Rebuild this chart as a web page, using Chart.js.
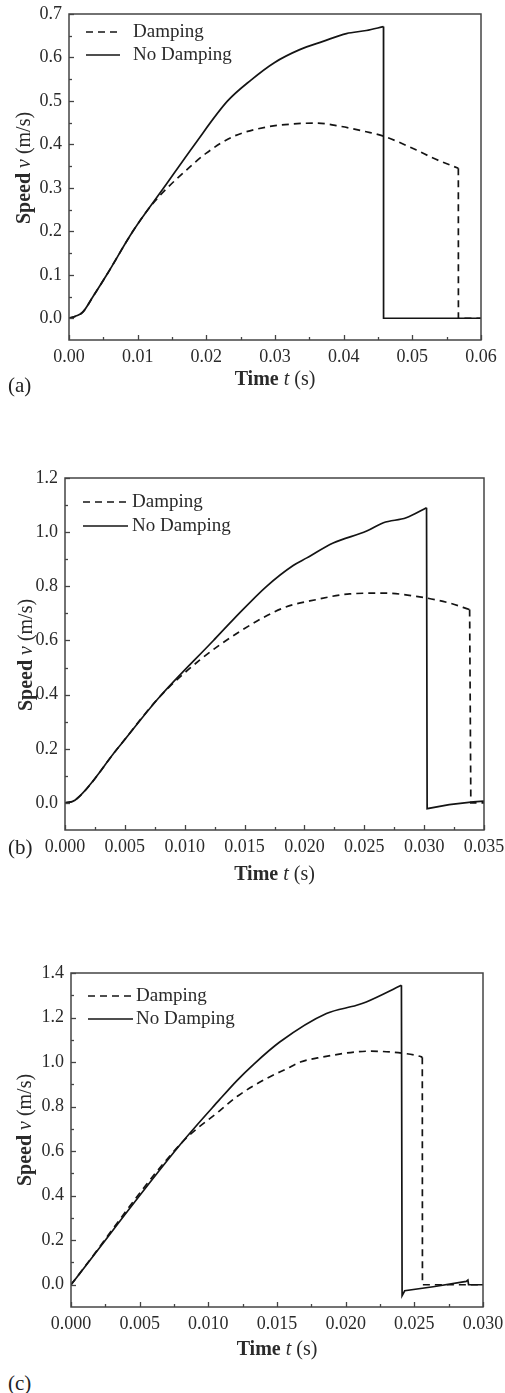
<!DOCTYPE html>
<html><head><meta charset="utf-8">
<script src="https://cdn.jsdelivr.net/npm/chart.js@4.4.1/dist/chart.umd.min.js"></script>
<style>
body{margin:0;background:#fff;width:505px;height:1393px;position:relative;overflow:hidden}
canvas{position:absolute;left:0}
.lbl{position:absolute;left:8px;font:21px "Liberation Serif","DejaVu Serif",serif;color:#222;line-height:24px}
</style></head><body>
<canvas id="ca" width="505" height="420" style="top:0px"></canvas>
<canvas id="cb" width="505" height="460" style="top:440px"></canvas>
<canvas id="cc" width="505" height="440" style="top:930px"></canvas>
<div class="lbl" style="top:373px">(a)</div>
<div class="lbl" style="top:835px">(b)</div>
<div class="lbl" style="top:1371px">(c)</div>
<script>
// ---------- DATA ----------
const seriesLabels = ['Damping', 'No Damping'];

// Panel (a) — smooth part, then the drop/tail part
const A_nd_t = [0, 0.001, 0.002, 0.0035, 0.0055, 0.0093, 0.0138, 0.0183, 0.0231, 0.0265, 0.0299, 0.0336, 0.037, 0.0404, 0.0433, 0.0458];
const A_nd_v = [0, 0.005, 0.014, 0.05, 0.1, 0.2, 0.3, 0.4, 0.5, 0.548, 0.588, 0.618, 0.637, 0.655, 0.662, 0.671];
const A_ndTail_t = [0.0458, 0.04581, 0.06];
const A_ndTail_v = [0.671, 0, 0];
const A_d_t = [0, 0.001, 0.002, 0.0035, 0.0055, 0.0093, 0.012, 0.0142, 0.0171, 0.02, 0.0239, 0.0288, 0.0326, 0.036, 0.0394, 0.0433, 0.0458, 0.0506, 0.0531, 0.0567];
const A_d_v = [0, 0.005, 0.014, 0.05, 0.1, 0.2, 0.26, 0.298, 0.341, 0.38, 0.418, 0.44, 0.447, 0.449, 0.442, 0.429, 0.419, 0.387, 0.368, 0.345];
const A_dTail_t = [0.0567, 0.05671, 0.06];
const A_dTail_v = [0.345, 0, 0];
const A_xTicks = [0, 0.01, 0.02, 0.03, 0.04, 0.05, 0.06];
const A_xMinor = [0.005, 0.015, 0.025, 0.035, 0.045, 0.055];
const A_yTicks = [0, 0.1, 0.2, 0.3, 0.4, 0.5, 0.6, 0.7];
const A_yMinor = [0.05, 0.15, 0.25, 0.35, 0.45, 0.55, 0.65];

// Panel (b)
const B_nd_t = [0, 0.00083, 0.00437, 0.00793, 0.0124, 0.01405, 0.01684, 0.01906, 0.0202, 0.0224, 0.0252, 0.0266, 0.0285, 0.0302];
const B_nd_v = [0, 0.01, 0.2, 0.393, 0.6, 0.677, 0.8, 0.877, 0.905, 0.96, 1.004, 1.035, 1.053, 1.09];
const B_ndTail_t = [0.0302, 0.03025, 0.0321, 0.0341, 0.035];
const B_ndTail_v = [1.09, -0.021, -0.006, 0.004, 0.007];
const B_d_t = [0, 0.00083, 0.00437, 0.00793, 0.01127, 0.0146, 0.01823, 0.02101, 0.02379, 0.02657, 0.02935, 0.03214, 0.0338];
const B_d_v = [0, 0.01, 0.2, 0.393, 0.528, 0.633, 0.72, 0.751, 0.772, 0.775, 0.763, 0.738, 0.714];
const B_dTail_t = [0.0338, 0.0339, 0.035];
const B_dTail_v = [0.714, 0, 0];
const B_xTicks = [0, 0.005, 0.01, 0.015, 0.02, 0.025, 0.03, 0.035];
const B_xMinor = [0.0025, 0.0075, 0.0125, 0.0175, 0.0225, 0.0275, 0.0325];
const B_yTicks = [0, 0.2, 0.4, 0.6, 0.8, 1.0, 1.2];
const B_yMinor = [0.1, 0.3, 0.5, 0.7, 0.9, 1.1];

// Panel (c)
const C_nd_t = [0, 0.008, 0.0108, 0.0121, 0.0133, 0.0152, 0.0186, 0.0208, 0.0215, 0.02406];
const C_nd_v = [0, 0.633, 0.83, 0.918, 0.99, 1.09, 1.218, 1.255, 1.27, 1.345];
const C_ndTail_t = [0.02406, 0.02411, 0.0243, 0.02637, 0.02878, 0.0289, 0.02895, 0.03];
const C_ndTail_v = [1.345, -0.049, -0.027, -0.009, 0.015, 0.021, 0, 0];
const C_d_t = [0, 0.0081, 0.0108, 0.0122, 0.0142, 0.0157, 0.0167, 0.0181, 0.0218, 0.0241, 0.0254, 0.02558];
const C_d_v = [0, 0.64, 0.78, 0.85, 0.925, 0.97, 1.0, 1.02, 1.049, 1.04, 1.026, 1.022];
const C_dTail_t = [0.02558, 0.02559, 0.03];
const C_dTail_v = [1.022, 0, 0];
const C_xTicks = [0, 0.005, 0.01, 0.015, 0.02, 0.025, 0.03];
const C_xMinor = [0.0025, 0.0075, 0.0125, 0.0175, 0.0225, 0.0275];
const C_yTicks = [0, 0.2, 0.4, 0.6, 0.8, 1.0, 1.2, 1.4];
const C_yMinor = [0.1, 0.3, 0.5, 0.7, 0.9, 1.1, 1.3];

// ---------- LAYOUT / STYLE ----------
const FAM = '"Liberation Serif","DejaVu Serif",serif';
const TXT = '#2a2a2a';
const LINE = '#141414';
const DASH = [7,5];

const panels = [
  {id:'ca', top:0, height:420, plot:{l:69,r:481,t:14,b:340}, xMin:0, xMax:0.06, yMin:-0.05, yMax:0.7,
   xTicks:A_xTicks, xMinor:A_xMinor, yTicks:A_yTicks, yMinor:A_yMinor, xDec:2, yDec:1,
   lines:[[A_d_t, A_d_v, 0, true], [A_dTail_t, A_dTail_v, 0, false], [A_nd_t, A_nd_v, 1, true], [A_ndTail_t, A_ndTail_v, 1, false]],
   legend:{x1:86, x2:120, tx:133, y1:32, y2:55}, yTitle:{x:25, y:168}, xTitleY:380},
  {id:'cb', top:440, height:460, plot:{l:65,r:484,t:478,b:830}, xMin:0, xMax:0.035, yMin:-0.1, yMax:1.2,
   xTicks:B_xTicks, xMinor:B_xMinor, yTicks:B_yTicks, yMinor:B_yMinor, xDec:3, yDec:1,
   lines:[[B_d_t, B_d_v, 0, true], [B_dTail_t, B_dTail_v, 0, false], [B_nd_t, B_nd_v, 1, true], [B_ndTail_t, B_ndTail_v, 1, false]],
   legend:{x1:83, x2:128, tx:132, y1:502, y2:526}, yTitle:{x:27, y:655}, xTitleY:875},
  {id:'cc', top:930, height:440, plot:{l:71,r:483,t:973,b:1307}, xMin:0, xMax:0.03, yMin:-0.1, yMax:1.4,
   xTicks:C_xTicks, xMinor:C_xMinor, yTicks:C_yTicks, yMinor:C_yMinor, xDec:3, yDec:1,
   lines:[[C_d_t, C_d_v, 0, true], [C_dTail_t, C_dTail_v, 0, false], [C_nd_t, C_nd_v, 1, true], [C_ndTail_t, C_ndTail_v, 1, false]],
   legend:{x1:88, x2:133, tx:136, y1:996, y2:1019}, yTitle:{x:26, y:1130}, xTitleY:1350}
];

function drawMixed(ctx, parts, cx, cy){
  let w = 0;
  parts.forEach(p => { ctx.font = p.font; p.w = ctx.measureText(p.text).width; w += p.w; });
  let x = cx - w/2;
  ctx.textAlign = 'left'; ctx.textBaseline = 'middle'; ctx.fillStyle = TXT;
  parts.forEach(p => { ctx.font = p.font; ctx.fillText(p.text, x, cy); x += p.w; });
}

function toPts(ts, vs){ return ts.map((t,i) => ({x:t, y:vs[i]})); }

function makeChart(p){
  const T = p.top, H = p.height;
  const deco = {
    id:'deco',
    afterDraw(chart){
      const ctx = chart.ctx, ca = chart.chartArea;
      const xs = chart.scales.x, ys = chart.scales.y;
      ctx.save();
      ctx.strokeStyle = '#444'; ctx.lineWidth = 1.5; ctx.setLineDash([]);
      ctx.strokeRect(ca.left, ca.top, ca.right - ca.left, ca.bottom - ca.top);
      ctx.lineWidth = 1.3;
      const tk = (arr, len) => arr.forEach(v => {
        const x = Math.round(xs.getPixelForValue(v)) + 0.5;
        ctx.beginPath(); ctx.moveTo(x, ca.bottom); ctx.lineTo(x, ca.bottom - len); ctx.stroke();
      });
      const tky = (arr, len) => arr.forEach(v => {
        const y = Math.round(ys.getPixelForValue(v)) + 0.5;
        ctx.beginPath(); ctx.moveTo(ca.left, y); ctx.lineTo(ca.left + len, y); ctx.stroke();
      });
      tk(p.xTicks, 5); tk(p.xMinor, 3); tky(p.yTicks, 5); tky(p.yMinor, 3);
      const L = p.legend;
      ctx.strokeStyle = LINE; ctx.lineWidth = 1.7;
      ctx.setLineDash(DASH);
      ctx.beginPath(); ctx.moveTo(L.x1, L.y1 - T); ctx.lineTo(L.x2, L.y1 - T); ctx.stroke();
      ctx.setLineDash([]);
      ctx.beginPath(); ctx.moveTo(L.x1, L.y2 - T); ctx.lineTo(L.x2, L.y2 - T); ctx.stroke();
      ctx.fillStyle = TXT; ctx.font = '19px ' + FAM; ctx.textAlign = 'left'; ctx.textBaseline = 'middle';
      ctx.fillText(seriesLabels[0], L.tx, L.y1 - T);
      ctx.fillText(seriesLabels[1], L.tx, L.y2 - T);
      drawMixed(ctx, [
        {text:'Time', font:'bold 20px ' + FAM},
        {text:' ', font:'20px ' + FAM},
        {text:'t', font:'italic 20px ' + FAM},
        {text:' (s)', font:'20px ' + FAM}
      ], (ca.left + ca.right)/2, p.xTitleY - T);
      ctx.translate(p.yTitle.x, p.yTitle.y - T);
      ctx.rotate(-Math.PI/2);
      drawMixed(ctx, [
        {text:'Speed', font:'bold 20px ' + FAM},
        {text:' ', font:'20px ' + FAM},
        {text:'v', font:'italic 20px ' + FAM},
        {text:' (m/s)', font:'20px ' + FAM}
      ], 0, 0);
      ctx.restore();
    }
  };
  new Chart(document.getElementById(p.id), {
    type:'line',
    data:{datasets: p.lines.map(([ts, vs, k, smooth]) => ({
      label: seriesLabels[k], data: toPts(ts, vs), borderColor: LINE, borderWidth: 1.7,
      borderDash: k === 0 ? DASH : [], pointRadius: 0, fill: false,
      cubicInterpolationMode: smooth ? 'monotone' : 'default', tension: 0
    }))},
    options:{
      responsive:false, animation:false, events:[],
      layout:{padding:{left:0, right:505 - p.plot.r, top:p.plot.t - T, bottom:0}},
      plugins:{legend:{display:false}, tooltip:{enabled:false}, title:{display:false}},
      scales:{
        x:{type:'linear', min:p.xMin, max:p.xMax,
           afterBuildTicks:s => { s.ticks = p.xTicks.map(v => ({value:v})); },
           afterFit:s => { s.height = H - (p.plot.b - T); s.paddingLeft = 0; s.paddingRight = 0; },
           grid:{display:false, drawTicks:false, tickLength:0}, border:{display:false},
           ticks:{padding:6, maxRotation:0, minRotation:0, autoSkip:false, color:TXT, font:{family:FAM, size:18},
                  callback:v => Number(v).toFixed(p.xDec)}},
        y:{type:'linear', min:p.yMin, max:p.yMax,
           afterBuildTicks:s => { s.ticks = p.yTicks.map(v => ({value:v})); },
           afterFit:s => { s.width = p.plot.l; s.paddingTop = 0; s.paddingBottom = 0; },
           grid:{display:false, drawTicks:false, tickLength:0}, border:{display:false},
           ticks:{padding:7, autoSkip:false, color:TXT, font:{family:FAM, size:18},
                  callback:v => Number(v).toFixed(p.yDec)}}
      }
    },
    plugins:[deco]
  });
}
panels.forEach(makeChart);
</script>
</body></html>
